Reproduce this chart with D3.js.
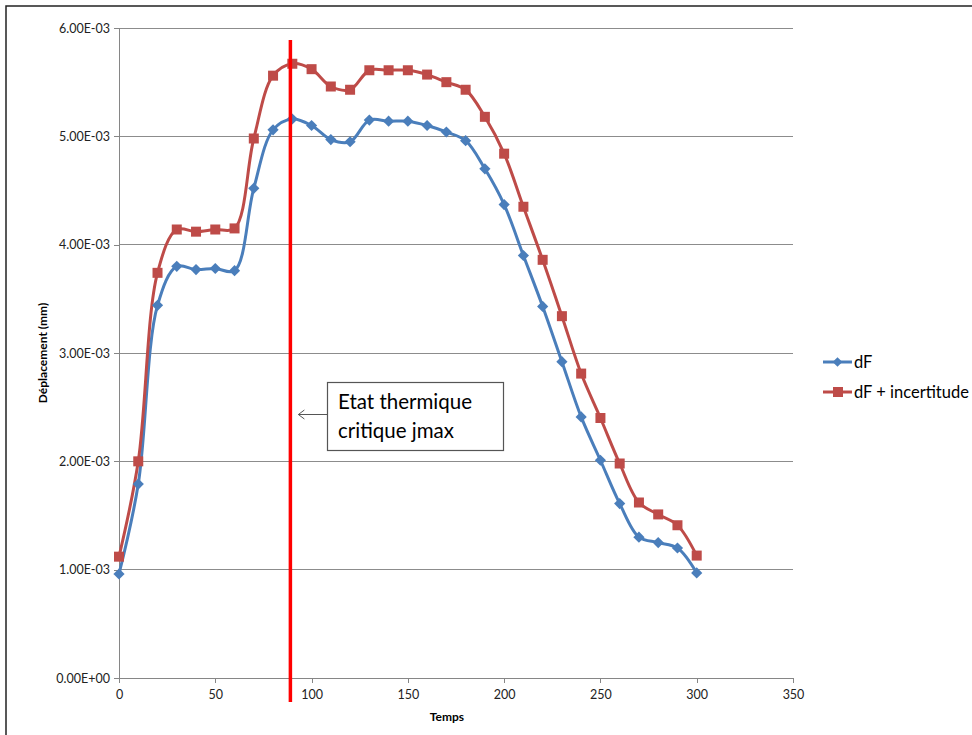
<!DOCTYPE html>
<html><head><meta charset="utf-8">
<script src="https://cdn.jsdelivr.net/npm/d3@7"></script>
<style>body{margin:0;background:#fff;} svg{display:block;font-family:Lato,"Open Sans",sans-serif;}</style>
</head><body><svg id="c" width="972" height="735"></svg>
<script>
const temps = [0,10,20,30,40,50,60,70,80,90,100,110,120,130,140,150,160,170,180,190,200,210,220,230,240,250,260,270,280,290,300];
const dF = [0.96e-3,1.79e-3,3.44e-3,3.80e-3,3.77e-3,3.78e-3,3.76e-3,4.52e-3,5.06e-3,5.16e-3,5.10e-3,4.97e-3,4.95e-3,5.15e-3,5.14e-3,5.14e-3,5.10e-3,5.04e-3,4.96e-3,4.70e-3,4.37e-3,3.90e-3,3.43e-3,2.92e-3,2.41e-3,2.01e-3,1.61e-3,1.30e-3,1.25e-3,1.20e-3,0.97e-3];
const dFInc = [1.12e-3,2.00e-3,3.74e-3,4.14e-3,4.12e-3,4.14e-3,4.15e-3,4.98e-3,5.56e-3,5.67e-3,5.62e-3,5.46e-3,5.43e-3,5.61e-3,5.61e-3,5.61e-3,5.57e-3,5.50e-3,5.43e-3,5.18e-3,4.84e-3,4.35e-3,3.86e-3,3.34e-3,2.81e-3,2.40e-3,1.98e-3,1.62e-3,1.51e-3,1.41e-3,1.13e-3];
const xTicks = [0,50,100,150,200,250,300,350];
const yTicks = [0,1e-3,2e-3,3e-3,4e-3,5e-3,6e-3];
const seriesNames = ["dF","dF + incertitude"];
const jmax = 89;
const annotationLines = ["Etat thermique","critique jmax"];

const svg = d3.select("#c");
const x = d3.scaleLinear().domain([0,350]).range([119,793]);
const y = d3.scaleLinear().domain([0,6e-3]).range([678,28]);
const fmt = v => v === 0 ? "0.00E+00" : (v/1e-3).toFixed(2) + "E-03";

// outer frame
svg.append("rect").attr("x",6).attr("y",6).attr("width",1000).attr("height",800)
  .attr("fill","none").attr("stroke","#222").attr("stroke-width",1.5);

// gridlines
svg.append("g").selectAll("line").data(yTicks.filter(d=>d>0)).join("line")
  .attr("x1",x(0)).attr("x2",x(350)).attr("y1",d=>y(d)).attr("y2",d=>y(d))
  .attr("stroke","#8c8c8c").attr("stroke-width",1).attr("shape-rendering","crispEdges");

// axes
const gy = svg.append("g").attr("transform",`translate(${x(0)},0)`)
  .call(d3.axisLeft(y).tickValues(yTicks).tickFormat(fmt).tickSize(5).tickPadding(4));
const gx = svg.append("g").attr("transform",`translate(0,${y(0)})`)
  .call(d3.axisBottom(x).tickValues(xTicks).tickSize(5).tickPadding(7));
[gx,gy].forEach(g=>{
  g.selectAll("path,line").attr("stroke","#868686").attr("shape-rendering","crispEdges");
  g.selectAll("text").attr("fill","#222").attr("font-size",12.5).attr("font-family","Lato,'Open Sans',sans-serif");
});

// axis titles
svg.append("text").attr("x",x(175)-9).attr("y",721).attr("text-anchor","middle")
  .attr("font-weight","bold").attr("font-size",12).attr("fill","#000").text("Temps");
svg.append("text").attr("transform","translate(47,353) rotate(-90)").attr("text-anchor","middle")
  .attr("font-weight","bold").attr("font-size",12).attr("fill","#000").text("Déplacement (mm)");

// series
const colors = ["#4A7EBB","#BE4B48"];
const series = [dF, dFInc];
const line = d3.line().x((d,i)=>x(temps[i])).y(d=>y(d)).curve(d3.curveCatmullRom.alpha(0.5));
series.forEach((s,k)=>{
  svg.append("path").datum(s).attr("d",line).attr("fill","none")
    .attr("stroke",colors[k]).attr("stroke-width",3).attr("stroke-linejoin","round");
});
// markers
svg.append("g").selectAll("path").data(dF).join("path")
  .attr("transform",(d,i)=>`translate(${x(temps[i])},${y(d)})`)
  .attr("d",d3.symbol(d3.symbolDiamond2,80)).attr("fill",colors[0]);
svg.append("g").selectAll("rect").data(dFInc).join("rect")
  .attr("x",(d,i)=>x(temps[i])-5).attr("y",d=>y(d)-5).attr("width",10).attr("height",10)
  .attr("fill",colors[1]);

// vertical jmax line
svg.append("line").attr("x1",x(jmax)).attr("x2",x(jmax)).attr("y1",40).attr("y2",702)
  .attr("stroke","#FF0000").attr("stroke-width",3.5);

// annotation
svg.append("line").attr("x1",327).attr("x2",x(jmax)+8).attr("y1",414.5).attr("y2",414.5)
  .attr("stroke","#555").attr("stroke-width",1);
svg.append("path").attr("d",`M${x(jmax)+14},410 L${x(jmax)+8},414.5 L${x(jmax)+14},419`)
  .attr("fill","none").attr("stroke","#555").attr("stroke-width",1);
svg.append("rect").attr("x",327.5).attr("y",382.5).attr("width",176).attr("height",68)
  .attr("fill","#fff").attr("stroke","#555").attr("stroke-width",1.2);
svg.append("g").selectAll("text").data(annotationLines).join("text")
  .attr("x",338).attr("y",(d,i)=>409+i*29).attr("font-size",20.5).attr("fill","#000").text(d=>d);

// legend
const lg = svg.append("g");
seriesNames.forEach((n,k)=>{
  const ly = 362 + k*30;
  lg.append("line").attr("x1",823).attr("x2",852).attr("y1",ly).attr("y2",ly)
    .attr("stroke",colors[k]).attr("stroke-width",3);
  if(k===0) lg.append("path").attr("transform",`translate(837.5,${ly})`).attr("d",d3.symbol(d3.symbolDiamond2,60)).attr("fill",colors[0]);
  else lg.append("rect").attr("x",833).attr("y",ly-5).attr("width",10).attr("height",10).attr("fill",colors[1]);
  lg.append("text").attr("x",854).attr("y",ly+6).attr("font-size",16.5).attr("fill","#000").text(n);
});
</script></body></html>
